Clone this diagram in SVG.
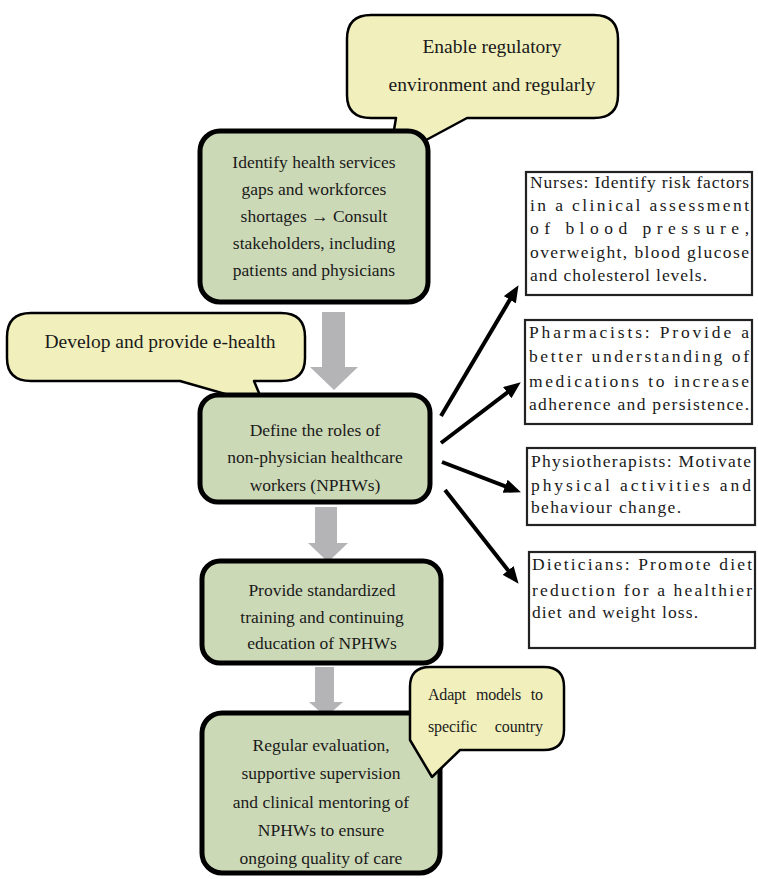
<svg xmlns="http://www.w3.org/2000/svg" width="758" height="879" viewBox="0 0 758 879">
<style>
.green{fill:#ccd9b7;stroke:#000;stroke-width:5}
.callout{fill:#f1f0bd;stroke:#000;stroke-width:2.5;stroke-linejoin:round}
.role{fill:#fff;stroke:#222;stroke-width:2.2}
.tm{font-family:"Liberation Serif","Times New Roman",serif;font-size:17.5px;fill:#1a1a1a;text-anchor:middle}
.tc{font-family:"Liberation Serif","Times New Roman",serif;font-size:19.5px;fill:#1a1a1a;text-anchor:middle}
.rt{font-family:"Liberation Serif","Times New Roman",serif;font-size:17.5px;fill:#1a1a1a}
.ct{font-family:"Liberation Serif","Times New Roman",serif;font-size:16px;fill:#1a1a1a}
.gray{fill:#b4b4b6}
.conn{stroke:#000;stroke-width:4;fill:none}
</style>
<defs>
<marker id="ah" markerUnits="userSpaceOnUse" markerWidth="18" markerHeight="14" refX="6" refY="7" orient="auto">
<path d="M0,0 L17,7 L0,14 z" fill="#000"/>
</marker>
</defs>

<g id="callout-regulatory">
<path class="callout" d="M371,15 H594 Q618,15 618,39 V95 Q618,118 594,118 H467 L389,160 L396,118 H371 Q347,118 347,95 V39 Q347,15 371,15 Z"/>
<text class="tc" x="492" y="53">Enable regulatory</text>
<text class="tc" x="492" y="91">environment and regularly</text>
</g>

<g id="callout-ehealth">
<path class="callout" d="M31,313 H281 Q305,313 305,337 V358 Q305,381 281,381 H254 L264,405 L180,381 H31 Q7,381 7,358 V337 Q7,313 31,313 Z"/>
<text class="tc" x="160" y="348">Develop and provide e-health</text>
</g>

<g id="gray-arrows">
<path class="gray" d="M322,312 H345 V367 H358 L334,390 L310,367 H322 Z"/>
<path class="gray" d="M315,507 H337 V543 H348 L328,562 L308,543 H315 Z"/>
<path class="gray" d="M315,667 H334 V702 H343 L326,717 L309,702 H315 Z"/>
</g>

<g id="node-identify">
<rect class="green" x="200" y="131" width="228" height="171" rx="20"/>
<text class="tm" x="314" y="168">Identify health services</text>
<text class="tm" x="314" y="195">gaps and workforces</text>
<text class="tm" x="314" y="222">shortages → Consult</text>
<text class="tm" x="314" y="249">stakeholders, including</text>
<text class="tm" x="314" y="276">patients and physicians</text>
</g>

<g id="node-define">
<rect class="green" x="200" y="395" width="230" height="107" rx="18"/>
<text class="tm" x="315" y="436">Define the roles of</text>
<text class="tm" x="315" y="463">non-physician healthcare</text>
<text class="tm" x="315" y="491">workers (NPHWs)</text>
</g>

<g id="node-training">
<rect class="green" x="202" y="561" width="239" height="102" rx="18"/>
<text class="tm" x="322" y="596">Provide standardized</text>
<text class="tm" x="322" y="623">training and continuing</text>
<text class="tm" x="322" y="649">education of NPHWs</text>
</g>

<g id="node-evaluation">
<rect class="green" x="202" y="713" width="238" height="160" rx="20"/>
<text class="tm" x="321" y="751">Regular evaluation,</text>
<text class="tm" x="321" y="779">supportive supervision</text>
<text class="tm" x="321" y="808">and clinical mentoring of</text>
<text class="tm" x="321" y="836">NPHWs to ensure</text>
<text class="tm" x="321" y="864">ongoing quality of care</text>
</g>

<g id="callout-adapt">
<path class="callout" d="M430,667 H544 Q564,667 564,687 V730 Q564,750 544,750 H460 L432,777 L410,740 V687 Q410,667 430,667 Z"/>
<text class="ct" x="428" y="700" textLength="115" lengthAdjust="spacing" word-spacing="6">Adapt models to</text>
<text class="ct" x="428" y="732" textLength="115" lengthAdjust="spacing" word-spacing="14">specific country</text>
</g>

<g id="node-nurses">
<rect class="role" x="526" y="172" width="226" height="123"/>
<text class="rt" x="530" y="188" textLength="219" lengthAdjust="spacing">Nurses: Identify risk factors</text>
<text class="rt" x="530" y="211" textLength="219" lengthAdjust="spacing">in a clinical assessment</text>
<text class="rt" x="530" y="234" textLength="219" lengthAdjust="spacing">of blood pressure,</text>
<text class="rt" x="530" y="258" textLength="219" lengthAdjust="spacing">overweight, blood glucose</text>
<text class="rt" x="530" y="281" textLength="177" lengthAdjust="spacing">and cholesterol levels.</text>
</g>

<g id="node-pharmacists">
<rect class="role" x="525" y="320" width="227" height="104"/>
<text class="rt" x="529" y="338" textLength="220" lengthAdjust="spacing">Pharmacists: Provide a</text>
<text class="rt" x="529" y="362" textLength="220" lengthAdjust="spacing">better understanding of</text>
<text class="rt" x="529" y="387" textLength="220" lengthAdjust="spacing">medications to increase</text>
<text class="rt" x="529" y="410" textLength="220" lengthAdjust="spacing">adherence and persistence.</text>
</g>

<g id="node-physio">
<rect class="role" x="527" y="448" width="228" height="77"/>
<text class="rt" x="531" y="467" textLength="220" lengthAdjust="spacing">Physiotherapists: Motivate</text>
<text class="rt" x="531" y="491" textLength="220" lengthAdjust="spacing">physical activities and</text>
<text class="rt" x="531" y="513" textLength="150" lengthAdjust="spacing">behaviour change.</text>
</g>

<g id="node-dieticians">
<rect class="role" x="529" y="552" width="226" height="96"/>
<text class="rt" x="532" y="570" textLength="220" lengthAdjust="spacing">Dieticians: Promote diet</text>
<text class="rt" x="532" y="596" textLength="220" lengthAdjust="spacing">reduction for a healthier</text>
<text class="rt" x="532" y="618" textLength="166" lengthAdjust="spacing">diet and weight loss.</text>
</g>

<g id="connectors">
<line class="conn" x1="441" y1="416" x2="512.9" y2="294.6" marker-end="url(#ah)"/>
<line class="conn" x1="441" y1="443" x2="512" y2="389" marker-end="url(#ah)"/>
<line class="conn" x1="442" y1="462" x2="510.7" y2="488.4" marker-end="url(#ah)"/>
<line class="conn" x1="445" y1="490" x2="511.8" y2="575.1" marker-end="url(#ah)"/>
</g>
</svg>
